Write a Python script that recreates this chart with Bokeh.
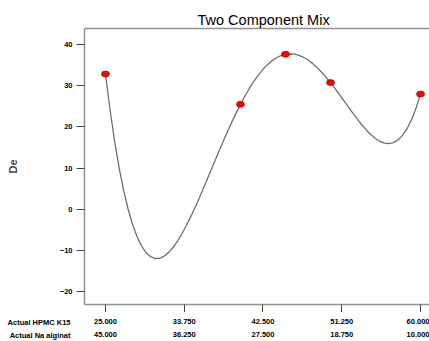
from bokeh.plotting import figure
from bokeh.layouts import column
from bokeh.models import LinearAxis, FixedTicker, Range1d, Label
from bokeh.embed import file_html
from bokeh.resources import INLINE

# ---- data ----
hpmc_ticks = [25.0, 33.75, 42.5, 51.25, 60.0]
hpmc_labels = ["25.000", "33.750", "42.500", "51.250", "60.000"]
alginate_labels = ["45.000", "36.250", "27.500", "18.750", "10.000"]
de_ticks = [-20, -10, 0, 10, 20, 30, 40]

design_hpmc = [25.0, 40.0, 45.0, 50.0, 60.0]
design_de = [32.9, 25.5, 37.7, 30.8, 28.0]

curve_hpmc = [25.0, 25.5, 26.0, 26.5, 27.0, 27.5, 28.0, 28.5, 29.0, 29.5,
              30.0, 30.5, 31.0, 31.5, 32.0, 32.5, 33.0, 33.5, 34.0, 34.5,
              35.0, 35.5, 36.0, 36.5, 37.0, 37.5, 38.0, 38.5, 39.0, 39.5,
              40.0, 40.5, 41.0, 41.5, 42.0, 42.5, 43.0, 43.5, 44.0, 44.5,
              45.0, 45.5, 46.0, 46.5, 47.0, 47.5, 48.0, 48.5, 49.0, 49.5,
              50.0, 50.5, 51.0, 51.5, 52.0, 52.5, 53.0, 53.5, 54.0, 54.5,
              55.0, 55.5, 56.0, 56.5, 57.0, 57.5, 58.0, 58.5, 59.0, 59.5, 60.0]
curve_de = [32.90, 24.25, 16.72, 10.22, 4.70, 0.08, -3.69, -6.69, -8.96, -10.57,
            -11.58, -12.03, -11.99, -11.50, -10.60, -9.36, -7.80, -5.99, -3.95, -1.72,
            0.65, 3.13, 5.69, 8.29, 10.91, 13.52, 16.08, 18.59, 21.00, 23.31,
            25.50, 27.54, 29.43, 31.15, 32.68, 34.03, 35.17, 36.12, 36.85, 37.38,
            37.70, 37.81, 37.72, 37.44, 36.96, 36.31, 35.48, 34.50, 33.39, 32.14,
            30.80, 29.37, 27.89, 26.36, 24.83, 23.32, 21.86, 20.47, 19.21, 18.09,
            17.17, 16.47, 16.05, 15.94, 16.19, 16.84, 17.95, 19.57, 21.75, 24.54, 28.00]
row_titles = ["Actual HPMC K15", "Actual Na alginat"]

FONT = "Liberation Sans"
FRAME = "#8f8f8f"
TICK = "#444444"

xr = Range1d(22.667, 61.0)

# ---------- main chart ----------
p = figure(width=429, height=312, output_backend="svg", toolbar_location=None,
           x_range=xr, y_range=Range1d(-23.23, 43.97),
           x_axis_location=None, y_axis_location=None,
           min_border_left=84, min_border_right=0, min_border_top=28, min_border_bottom=8)
p.grid.visible = False
p.outline_line_color = None
p.background_fill_color = "white"
p.border_fill_color = "white"

p.title.text = "Two Component Mix"
p.title.align = "left"
p.title.offset = 113
p.title.text_font = FONT
p.title.text_font_size = "14.5px"
p.title.text_font_style = "normal"
p.title.text_color = "black"
p.title.standoff = 2

yax = LinearAxis(ticker=FixedTicker(ticks=de_ticks), axis_label="De")
yax.axis_line_color = FRAME
yax.axis_line_width = 1.5
yax.major_tick_line_color = TICK
yax.major_tick_out = 8
yax.major_tick_in = 0
yax.minor_tick_line_color = None
yax.major_label_standoff = 4
yax.major_label_text_font = FONT
yax.major_label_text_font_size = "7.5px"
yax.major_label_text_font_style = "bold"
yax.major_label_text_color = "black"
yax.axis_label_text_font = FONT
yax.axis_label_text_font_size = "11px"
yax.axis_label_text_font_style = "bold"
yax.axis_label_standoff = 38
p.add_layout(yax, "left")

xticks_ax = LinearAxis(ticker=FixedTicker(ticks=hpmc_ticks))
xticks_ax.major_label_overrides = {t: "" for t in hpmc_ticks}
xticks_ax.major_label_text_font_size = "0px"
xticks_ax.major_label_standoff = 0
xticks_ax.axis_line_color = FRAME
xticks_ax.axis_line_width = 1.5
xticks_ax.major_tick_line_color = TICK
xticks_ax.major_tick_out = 8
xticks_ax.major_tick_in = 0
xticks_ax.minor_tick_line_color = None
p.add_layout(xticks_ax, "below")

top = LinearAxis(ticker=FixedTicker(ticks=[]))
top.axis_line_color = FRAME
top.axis_line_width = 1.5
top.major_tick_line_color = None
top.minor_tick_line_color = None
top.major_label_text_font_size = "0px"
top.major_label_standoff = 0
p.add_layout(top, "above")

p.line(curve_hpmc, curve_de, line_color="#6e6e6e", line_width=1.3)
p.ellipse(x=design_hpmc, y=design_de, width=8, height=6, width_units="screen",
          height_units="screen", fill_color="#ff0000", line_color="#7a0000", line_width=0.6)

# ---------- two-row x tick labels strip ----------
b = figure(width=429, height=29, output_backend="svg", toolbar_location=None,
           x_range=xr, y_range=Range1d(0, 1),
           x_axis_location=None, y_axis_location=None,
           min_border_left=84, min_border_right=0, min_border_top=0, min_border_bottom=27)
b.grid.visible = False
b.outline_line_color = None
b.background_fill_color = "white"
b.border_fill_color = "white"

def label_axis(labels, standoff):
    ax = LinearAxis(ticker=FixedTicker(ticks=hpmc_ticks))
    ax.major_label_overrides = {t: s for t, s in zip(hpmc_ticks, labels)}
    ax.axis_line_color = None
    ax.major_tick_line_color = None
    ax.major_tick_out = 0
    ax.major_tick_in = 0
    ax.minor_tick_line_color = None
    ax.major_label_standoff = standoff
    ax.major_label_text_font = FONT
    ax.major_label_text_font_size = "7.5px"
    ax.major_label_text_font_style = "bold"
    ax.major_label_text_color = "black"
    return ax

b.add_layout(label_axis(hpmc_labels, 4), "below")
b.add_layout(label_axis(alginate_labels, 5), "below")
b.add_layout(Label(x=70, y=16.5, x_units="canvas", y_units="canvas",
                   text="\n".join(row_titles), text_align="right", text_baseline="middle",
                   text_line_height=1.5, text_font=FONT, text_font_size="7.5px",
                   text_font_style="bold", text_color="black"), "left")

layout = column(p, b, spacing=0)
open("out.html", "w").write(file_html(layout, INLINE))
